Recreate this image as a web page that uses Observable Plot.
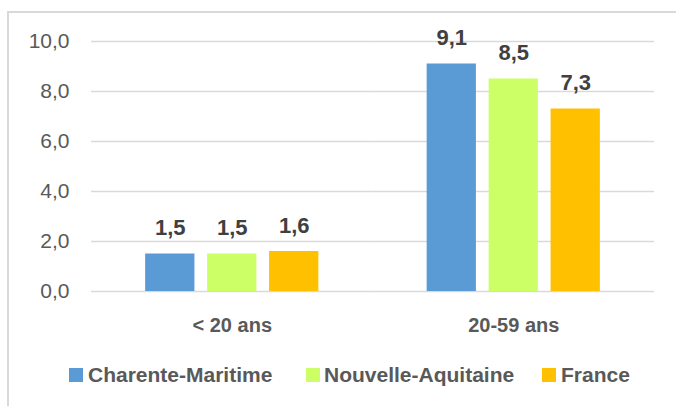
<!DOCTYPE html>
<html>
<head>
<meta charset="utf-8">
<script src="https://cdn.jsdelivr.net/npm/d3@7"></script>
<script src="https://cdn.jsdelivr.net/npm/@observablehq/plot@0.6"></script>
<style>
  html, body { margin: 0; padding: 0; background: #fff; overflow: hidden; width: 676px; height: 406px; }
  #frame { position: absolute; left: 7px; top: 11px; width: 700px; height: 500px; border: 2px solid #d9d9d9; box-sizing: border-box; }
  #chart { position: absolute; left: 0; top: 0; }
  #legend { position: absolute; left: 0; top: 345px; width: 676px; height: 61px; font-family: "Liberation Sans", Arial, sans-serif; font-weight: bold; font-size: 21px; color: #595959; }
  .sw { position: absolute; top: 23px; width: 14px; height: 14px; }
  .lb { position: absolute; top: 18px; line-height: 24px; white-space: nowrap; }
</style>
</head>
<body>
<div id="frame"></div>
<div id="chart"></div>
<div id="legend"></div>
<script>
const groups = ["< 20 ans", "20-59 ans"];
const series = ["Charente-Maritime", "Nouvelle-Aquitaine", "France"];
const charenteMaritime = [1.5, 9.1];
const nouvelleAquitaine = [1.5, 8.5];
const france = [1.6, 7.3];
const colors = ["#5B9BD5", "#CCFF66", "#FFC000"];
const yTicks = [0, 2, 4, 6, 8, 10];

const values = [charenteMaritime, nouvelleAquitaine, france];
const data = groups.flatMap((g, i) => series.map((s, j) => ({group: g, series: s, value: values[j][i]})));
const fmt = v => v.toFixed(1).replace(".", ",");

const chart = Plot.plot({
  width: 676,
  height: 345,
  marginTop: 41,
  marginBottom: 54,
  marginLeft: 91,
  marginRight: 22,
  style: {fontFamily: "'Liberation Sans', Arial, sans-serif", background: "transparent"},
  fx: {domain: groups, padding: 0, round: false, label: null},
  x: {domain: series, paddingInner: 0.205, paddingOuter: 0.874, round: false, axis: null},
  y: {domain: [0, 10], axis: null},
  color: {domain: series, range: colors},
  marks: [
    Plot.ruleY(yTicks, {stroke: "#d9d9d9", strokeWidth: 1.5}),
    Plot.axisY({ticks: yTicks, tickSize: 0, tickPadding: 22, tickFormat: fmt, fontSize: 21, color: "#595959", label: null}),
    Plot.axisFx({anchor: "bottom", tickSize: 0, tickPadding: 26, fontSize: 20, fontWeight: "bold", color: "#595959", label: null}),
    Plot.barY(data, {fx: "group", x: "series", y: "value", fill: "series"}),
    Plot.text(data, {fx: "group", x: "series", y: "value", text: d => fmt(d.value), lineAnchor: "bottom", dy: -19, fontSize: 22, fontWeight: "bold", fill: "#404040"})
  ]
});
document.getElementById("chart").appendChild(chart);

const legend = document.getElementById("legend");
const swX = [69, 306, 542];
const lbX = [88, 324, 561];
series.forEach((s, i) => {
  const sw = document.createElement("div");
  sw.className = "sw";
  sw.style.left = swX[i] + "px";
  sw.style.background = colors[i];
  legend.appendChild(sw);
  const lb = document.createElement("div");
  lb.className = "lb";
  lb.style.left = lbX[i] + "px";
  lb.textContent = s;
  legend.appendChild(lb);
});
</script>
</body>
</html>
